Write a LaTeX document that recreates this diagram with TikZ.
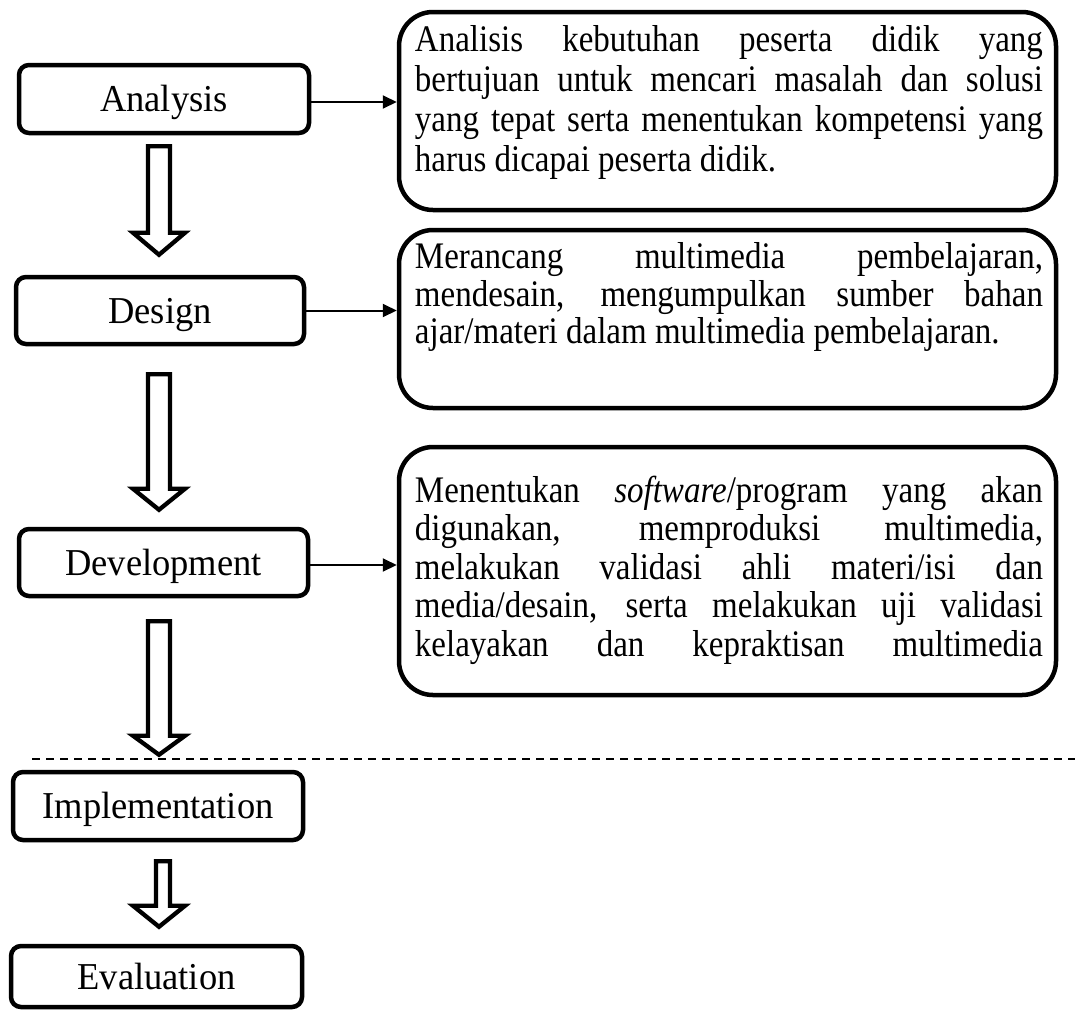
\documentclass[tikz,border=0pt]{standalone}
\usepackage{fontspec}
\setmainfont{Liberation Serif}
\newfontfamily\stagefont{Liberation Serif}[FakeStretch=0.96]
\newfontfamily\descfont{Liberation Serif}[FakeStretch=0.88]
\usetikzlibrary{arrows.meta,calc}

% width of one justified line of description text
\newlength\desclen
\setlength\desclen{628pt}
\newcommand\jline[1]{\makebox[\desclen][s]{#1}}

% hollow block arrow pointing down from one stage box to the next
% #1 from, #2 to, #3 gap below #1, #4 gap above #2, #5 head length,
% #6 left shaft offset, #7 right shaft offset (both from the axis)
\newcommand\hollowdown[7]{%
  \draw[hollow]
    ($(#1.south -| axis)+(#6,#3)$) --
    ($(#1.south -| axis)+(#7,#3)$) --
    ($(#2.north -| axis)+(#7,-#4-#5)$) --
    ($(#2.north -| axis)+(26,-#4-#5)$) --
    ($(#2.north -| axis)+(0,-#4)$) --
    ($(#2.north -| axis)+(-26,-#4-#5)$) --
    ($(#2.north -| axis)+(#6,-#4-#5)$) -- cycle;}

\begin{document}
\begin{tikzpicture}[x=1pt,y=-1pt,
  stage/.style={draw, line width=4.5pt, rounded corners=10pt, inner sep=0pt,
    font=\stagefont\fontsize{38}{42}\selectfont, text height=25pt, text depth=0pt},
  descbox/.style={draw, line width=4.5pt, rounded corners=34pt, inner sep=0pt},
  desctext/.style={inner sep=0pt, anchor=north west, align=left},
  link/.style={line width=2pt, -{Triangle[length=14pt,width=13pt]}},
  hollow/.style={line width=4.3pt, miter limit=10, fill=white},
  divider/.style={line width=2pt, dash pattern=on 8pt off 6pt}]

\path[use as bounding box, fill=white] (0,0) rectangle (1075,1012);

\coordinate (axis) at (159,0);

% stage boxes
\node[stage, minimum width=290pt, minimum height=68pt] (an) at (164,99) {Analysis};
\node[stage, minimum width=288pt, minimum height=67pt] (de) at (160,310.5) {Design};
\node[stage, minimum width=289pt, minimum height=67pt] (dv) at (163.5,562.5) {Development};
\node[stage, minimum width=290pt, minimum height=68pt] (im) at (158,806) {Implementation};
\node[stage, minimum width=291pt, minimum height=61pt] (ev) at (156.5,976.5) {Evaluation};

% description boxes
\node[descbox, minimum width=657pt, minimum height=198pt] (d1) at (727.5,111) {};
\node[descbox, minimum width=657pt, minimum height=178pt] (d2) at (727.5,319) {};
\node[descbox, minimum width=657pt, minimum height=248pt] (d3) at (727.5,571) {};

\node[desctext, font=\descfont\fontsize{37.5}{40}\selectfont] (t1)
  at ($(d1.north west)+(18,16)$) {%
  \jline{Analisis kebutuhan peserta didik yang}\\
  \jline{bertujuan untuk mencari masalah dan solusi}\\
  \jline{yang tepat serta menentukan kompetensi yang}\\
  harus dicapai peserta didik.};

\node[desctext, font=\descfont\fontsize{37.5}{37.5}\selectfont] (t2)
  at ($(d2.north west)+(18,15)$) {%
  \jline{Merancang multimedia pembelajaran,}\\
  \jline{mendesain, mengumpulkan sumber bahan}\\
  ajar/materi dalam multimedia pembelajaran.};

\node[desctext, font=\descfont\fontsize{37.5}{38.5}\selectfont] (t3)
  at ($(d3.north west)+(18,31)$) {%
  \jline{Menentukan \textit{software}/program yang akan}\\
  \jline{digunakan, memproduksi multimedia,}\\
  \jline{melakukan validasi ahli materi/isi dan}\\
  \jline{media/desain, serta melakukan uji validasi}\\
  \jline{kelayakan dan kepraktisan multimedia}};

% links from stages to descriptions
\draw[link] ([yshift=-3pt]an.east) -- ([yshift=-3pt]an.east -| d1.west);
\draw[link] (de.east) -- (de.east -| d2.west);
\draw[link] ([yshift=-2.5pt]dv.east) -- ([yshift=-2.5pt]dv.east -| d3.west);

% block arrows between stages
\hollowdown{an}{de}{11}{20}{22}{-11}{11}
\hollowdown{de}{dv}{28}{17}{21}{-11}{11}
\hollowdown{dv}{im}{23}{15}{19}{-11}{11}
\hollowdown{im}{ev}{19}{17}{21}{-3}{11}

% divider between the two phases
\coordinate (dl) at (32,759);
\coordinate (dr) at (1075,759);
\draw[divider] (dl) -- (dr);

\end{tikzpicture}
\end{document}
